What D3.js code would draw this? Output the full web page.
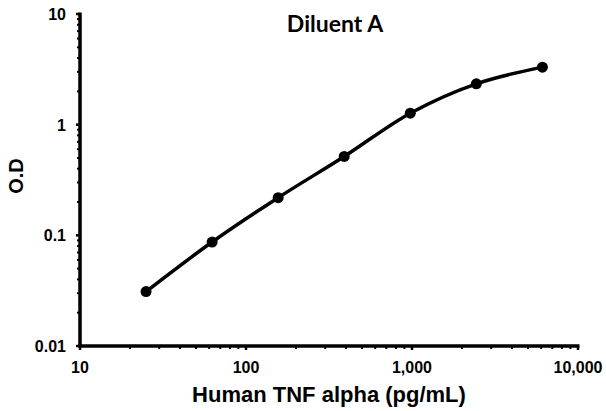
<!DOCTYPE html>
<html>
<head>
<meta charset="utf-8">
<script src="https://cdn.jsdelivr.net/npm/d3@7"></script>
<style>
  body { margin: 0; background: #fff; }
  svg { display: block; }
  text { font-family: "Liberation Sans", Arial, sans-serif; font-weight: bold; fill: #000; }
</style>
</head>
<body>
<svg width="606" height="411"></svg>
<script>
// standard curve, 2.5-fold dilutions
const concentrations = [25, 62.5, 156.25, 390.6, 976.6, 2441, 6103.5]
const od = [0.031, 0.087, 0.219, 0.516, 1.27, 2.34, 3.31]

const xTicks = [10, 100, 1000, 10000]
const xTickLabels = ["10", "100", "1,000", "10,000"]
const yTicks = [0.01, 0.1, 1, 10]
const yTickLabels = ["0.01", "0.1", "1", "10"]

const title = "Diluent A"
const xTitle = "Human TNF alpha (pg/mL)"
const yTitle = "O.D"

const svg = d3.select("svg")

const x = d3.scaleLog().domain([10, 10000]).range([80, 578])
const y = d3.scaleLog().domain([0.01, 10]).range([346, 14])

// minor ticks 2..9 inside each decade
const minor = (dom) => {
  let out = []
  for (let d = dom[0]; d < dom[1]; d *= 10)
    for (let k = 2; k < 10; k++) out.push(d * k)
  return out
}

// x axis
const xAxis = svg.append("g")
xAxis.selectAll("line.minor")
  .data(minor(x.domain()))
  .enter().append("line")
  .attr("x1", d => x(d)).attr("x2", d => x(d))
  .attr("y1", y(0.01)).attr("y2", y(0.01) + 3)
  .attr("stroke", "#000").attr("stroke-width", 2)
xAxis.selectAll("line.major")
  .data(xTicks)
  .enter().append("line")
  .attr("x1", d => x(d)).attr("x2", d => x(d))
  .attr("y1", y(0.01)).attr("y2", y(0.01) + 4)
  .attr("stroke", "#000").attr("stroke-width", 2.5)
xAxis.append("line")
  .attr("x1", x(10) - 1.5).attr("x2", x(10000) + 1.5)
  .attr("y1", y(0.01)).attr("y2", y(0.01))
  .attr("stroke", "#000").attr("stroke-width", 3.5)
xAxis.selectAll("text")
  .data(xTicks)
  .enter().append("text")
  .attr("x", d => x(d))
  .attr("y", 373)
  .attr("text-anchor", "middle")
  .attr("font-size", 16)
  .text((d, i) => xTickLabels[i])

// y axis
const yAxis = svg.append("g")
yAxis.selectAll("line.minor")
  .data(minor(y.domain()))
  .enter().append("line")
  .attr("x1", x(10) - 3).attr("x2", x(10))
  .attr("y1", d => y(d)).attr("y2", d => y(d))
  .attr("stroke", "#000").attr("stroke-width", 2)
yAxis.selectAll("line.major")
  .data(yTicks)
  .enter().append("line")
  .attr("x1", x(10) - 4).attr("x2", x(10))
  .attr("y1", d => y(d)).attr("y2", d => y(d))
  .attr("stroke", "#000").attr("stroke-width", 2.5)
yAxis.append("line")
  .attr("x1", x(10)).attr("x2", x(10))
  .attr("y1", y(10) - 1.5).attr("y2", y(0.01) + 1.5)
  .attr("stroke", "#000").attr("stroke-width", 3.5)
yAxis.selectAll("text")
  .data(yTicks)
  .enter().append("text")
  .attr("x", 66)
  .attr("y", d => y(d) + 6)
  .attr("text-anchor", "end")
  .attr("font-size", 16)
  .text((d, i) => yTickLabels[i])

// titles
svg.append("text")
  .attr("x", 335).attr("y", 32)
  .attr("text-anchor", "middle")
  .attr("font-size", 23)
  .style("font-family", "Lato, Carlito, sans-serif")
  .text(title)

svg.append("text")
  .attr("x", 329).attr("y", 402)
  .attr("text-anchor", "middle")
  .attr("font-size", 22)
  .text(xTitle)

svg.append("text")
  .attr("transform", "translate(23,176) rotate(-90)")
  .attr("text-anchor", "middle")
  .attr("font-size", 20)
  .text(yTitle)

// curve + points
const pts = concentrations.map((c, i) => ({c: c, v: od[i]}))

svg.append("path")
  .datum(pts)
  .attr("fill", "none")
  .attr("stroke", "#000")
  .attr("stroke-width", 3.5)
  .attr("d", d3.line()
    .x(d => x(d.c))
    .y(d => y(d.v))
    .curve(d3.curveCatmullRom.alpha(0.5)))

svg.selectAll("circle")
  .data(pts)
  .enter().append("circle")
  .attr("cx", d => x(d.c))
  .attr("cy", d => y(d.v))
  .attr("r", 5.5)
  .attr("fill", "#000")
</script>
</body>
</html>
